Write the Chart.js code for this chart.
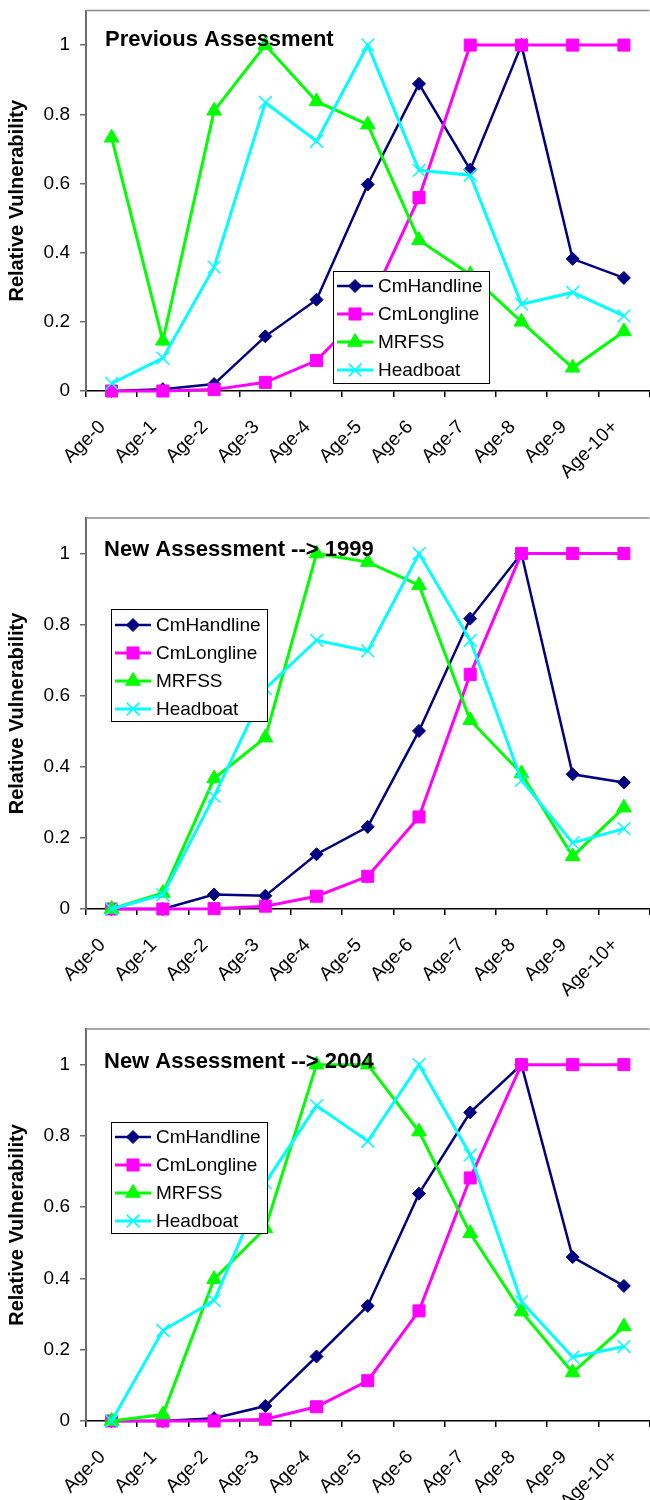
<!DOCTYPE html>
<html lang="en">
<head>
<meta charset="UTF-8">
<title>Relative Vulnerability by Age</title>
<script src="https://cdn.jsdelivr.net/npm/chart.js"></script>
<style>
  html, body { margin: 0; padding: 0; background: #fff; overflow: hidden; width: 650px; height: 1500px; }
  .panel { position: absolute; left: 0; }
</style>
</head>
<body>
<div class="panel" style="top:0px"><canvas id="chart1" width="660" height="505"></canvas></div>
<div class="panel" style="top:505px"><canvas id="chart2" width="660" height="510"></canvas></div>
<div class="panel" style="top:1015px"><canvas id="chart3" width="660" height="485"></canvas></div>

<script>
  // categories and series
  const ages = ['Age-0', 'Age-1', 'Age-2', 'Age-3', 'Age-4', 'Age-5', 'Age-6', 'Age-7', 'Age-8', 'Age-9', 'Age-10+'];
  const seriesNames = ['CmHandline', 'CmLongline', 'MRFSS', 'Headboat'];
  const yTicks = [0, 0.2, 0.4, 0.6, 0.8, 1];

  // Previous Assessment
  const prevHandline = [0, 0.005, 0.02, 0.158, 0.264, 0.597, 0.888, 0.64, 1, 0.382, 0.327];
  const prevLongline = [0, 0, 0.004, 0.025, 0.088, 0.24, 0.559, 1, 1, 1, 1];
  const prevMrfss = [0.732, 0.145, 0.81, 1, 0.837, 0.77, 0.436, 0.337, 0.2, 0.067, 0.172];
  const prevHeadboat = [0.022, 0.095, 0.358, 0.834, 0.722, 1, 0.638, 0.624, 0.251, 0.285, 0.217];

  // New Assessment --> 1999
  const n99Handline = [0, 0, 0.041, 0.037, 0.154, 0.231, 0.501, 0.817, 1, 0.379, 0.356];
  const n99Longline = [0, 0, 0.001, 0.008, 0.036, 0.092, 0.259, 0.66, 1, 1, 1];
  const n99Mrfss = [0, 0.045, 0.367, 0.482, 1, 0.976, 0.911, 0.531, 0.381, 0.148, 0.285];
  const n99Headboat = [0, 0.04, 0.317, 0.62, 0.756, 0.726, 1, 0.756, 0.362, 0.186, 0.226];

  // New Assessment --> 2004
  const n04Handline = [0, 0, 0.008, 0.042, 0.181, 0.323, 0.638, 0.866, 1, 0.46, 0.379];
  const n04Longline = [0, 0, 0, 0.005, 0.04, 0.113, 0.309, 0.682, 1, 1, 1];
  const n04Mrfss = [0, 0.018, 0.398, 0.541, 1, 1, 0.812, 0.527, 0.307, 0.136, 0.265];
  const n04Headboat = [0, 0.254, 0.338, 0.669, 0.885, 0.785, 1, 0.747, 0.335, 0.179, 0.209];

  Chart.defaults.font.family = 'Arial, "Liberation Sans", sans-serif';
  Chart.defaults.color = '#000';

  const looks = [
    { color: '#000080', point: 'rectRot', radius: 6.5, width: 2.5, pbw: 1, order: 4 },
    { color: '#ff00ff', point: 'rect', radius: 8.5, width: 3, pbw: 1, order: 3 },
    { color: '#00ff00', point: 'triangle', radius: 8.5, width: 3, pbw: 1, order: 2 },
    { color: '#00ffff', point: 'crossRot', radius: 9, width: 3, pbw: 1.5, order: 1 }
  ];

  // title, frame and in-plot legend
  const decor = {
    id: 'decor',
    afterDatasetsDraw(chart, args, opts) {
      const ctx = chart.ctx, a = chart.chartArea;
      ctx.save();
      ctx.strokeStyle = '#8a8a8a';
      ctx.lineWidth = 1.5;
      ctx.beginPath();
      ctx.moveTo(a.left, a.top);
      ctx.lineTo(a.right, a.top);
      ctx.stroke();

      ctx.fillStyle = '#000';
      ctx.font = 'bold 22px Arial, "Liberation Sans", sans-serif';
      ctx.textAlign = 'left';
      ctx.textBaseline = 'alphabetic';
      ctx.fillText(opts.title, opts.tx, opts.ty);

      const L = opts.legend;
      ctx.fillStyle = '#fff';
      ctx.fillRect(L.x, L.y, L.w, L.h);
      ctx.strokeStyle = '#000';
      ctx.lineWidth = 1;
      ctx.strokeRect(L.x + 0.5, L.y + 0.5, L.w, L.h);
      ctx.font = '19px Arial, "Liberation Sans", sans-serif';
      ctx.textBaseline = 'middle';
      chart.data.datasets.forEach((ds, i) => {
        const y = L.y + L.first + i * L.step;
        ctx.strokeStyle = ds.borderColor;
        ctx.lineWidth = ds.borderWidth;
        ctx.beginPath();
        ctx.moveTo(L.x + 4, y);
        ctx.lineTo(L.x + 40, y);
        ctx.stroke();
        ctx.fillStyle = ds.backgroundColor;
        ctx.lineWidth = ds.pointBorderWidth;
        if (Chart.helpers && Chart.helpers.drawPoint) {
          Chart.helpers.drawPoint(ctx, { pointStyle: ds.pointStyle, radius: ds.pointRadius, borderWidth: ds.pointBorderWidth, rotation: 0 }, L.x + 22, y);
        }
        ctx.fillStyle = '#000';
        ctx.fillText(ds.label, L.x + 45, y + 1);
      });
      ctx.restore();
    }
  };

  function makeChart(id, seriesData, deco, padTop, xHeight) {
    const datasets = seriesData.map((vals, i) => ({
      label: seriesNames[i],
      data: vals,
      borderColor: looks[i].color,
      backgroundColor: looks[i].color,
      borderWidth: looks[i].width,
      pointStyle: looks[i].point,
      pointRadius: looks[i].radius,
      pointBorderWidth: looks[i].pbw,
      pointBackgroundColor: looks[i].color,
      pointBorderColor: looks[i].color,
      tension: 0,
      clip: false,
      order: looks[i].order
    }));

    return new Chart(document.getElementById(id), {
      type: 'line',
      data: { labels: ages, datasets: datasets },
      options: {
        responsive: false,
        animation: false,
        layout: { padding: { top: padTop, right: 3, left: 0, bottom: 0 } },
        plugins: {
          legend: { display: false },
          tooltip: { enabled: false },
          decor: deco
        },
        scales: {
          x: {
            type: 'category',
            offset: true,
            afterFit: s => { s.height = xHeight; s.paddingLeft = 0; s.paddingRight = 0; },
            grid: { offset: true, drawOnChartArea: false, drawTicks: true, tickLength: 6, color: '#000', lineWidth: 1.5 },
            border: { display: true, color: '#000', width: 1.5 },
            ticks: { autoSkip: false, minRotation: 45, maxRotation: 45, font: { size: 19 }, color: '#000', padding: 19, labelOffset: -9 }
          },
          y: {
            min: 0,
            max: 1.1,
            afterFit: s => { s.width = 86; s.paddingTop = 0; s.paddingBottom = 0; },
            afterBuildTicks: s => { s.ticks = yTicks.map(v => ({ value: v })); },
            grid: { drawOnChartArea: false, drawTicks: true, tickLength: 6, color: '#6e6e6e', lineWidth: 1.5 },
            border: { display: true, color: '#6e6e6e', width: 2 },
            ticks: { font: { size: 19 }, color: '#000', padding: 10, callback: v => String(+v.toFixed(1)) },
            title: { display: true, text: 'Relative Vulnerability', font: { size: 20, weight: 'bold' }, color: '#000', padding: { top: 5, bottom: 0 } }
          }
        }
      },
      plugins: [decor]
    });
  }

  makeChart('chart1', [prevHandline, prevLongline, prevMrfss, prevHeadboat],
    { title: 'Previous Assessment', tx: 105, ty: 46, legend: { x: 333, y: 271, w: 156, h: 112, first: 15, step: 28 } },
    7, 114);

  makeChart('chart2', [n99Handline, n99Longline, n99Mrfss, n99Headboat],
    { title: 'New Assessment --> 1999', tx: 104, ty: 51, legend: { x: 111, y: 104, w: 156, h: 112, first: 16, step: 28 } },
    13, 106);

  makeChart('chart3', [n04Handline, n04Longline, n04Mrfss, n04Headboat],
    { title: 'New Assessment --> 2004', tx: 104, ty: 53, legend: { x: 111, y: 107, w: 156, h: 111, first: 15, step: 28 } },
    14, 79);
</script>
</body>
</html>
